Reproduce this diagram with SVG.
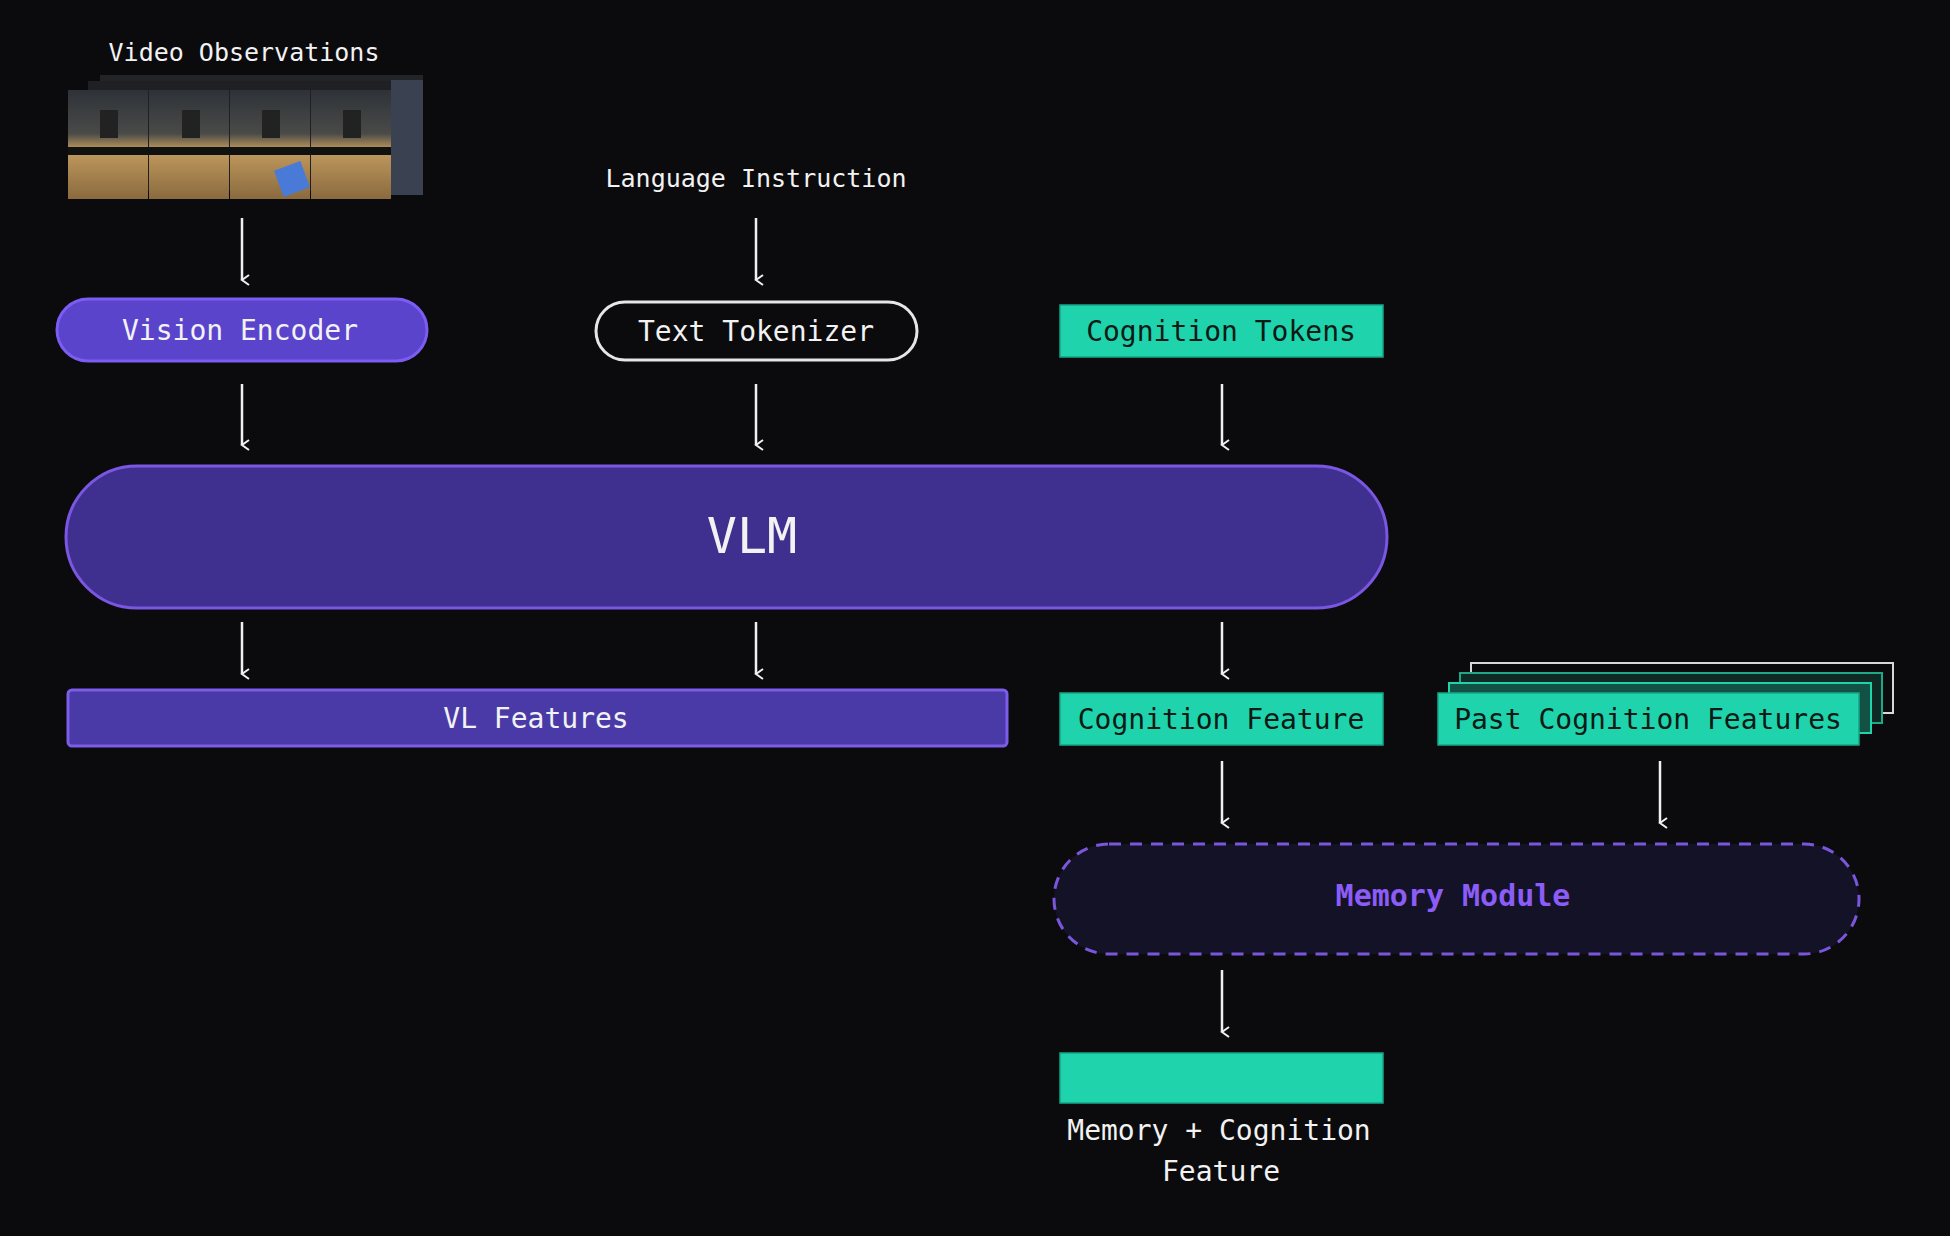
<svg xmlns="http://www.w3.org/2000/svg" width="1950" height="1236" viewBox="0 0 1950 1236">
<defs>
<style>
text{font-family:"DejaVu Sans Mono","Liberation Mono",monospace;text-anchor:middle;dominant-baseline:central}
.w{fill:#f2f2f2}
.k{fill:#0b1a14}
.teal{fill:#1fd3ac;stroke:#16a686;stroke-width:1.5}
.arr{stroke:#f0f0f0;stroke-width:2.5;fill:none}
</style>
<marker id="ah" viewBox="0 0 12 12" refX="6" refY="10" markerWidth="12" markerHeight="12" markerUnits="userSpaceOnUse" orient="auto-start-reverse">
<path d="M1,3 L6,10 L11,3" fill="none" stroke="#f0f0f0" stroke-width="2"/>
</marker>
<linearGradient id="fr" x1="0" y1="0" x2="0" y2="1">
<stop offset="0" stop-color="#2e3238"/><stop offset="0.4" stop-color="#4a4a48"/><stop offset="0.55" stop-color="#c19a5e"/><stop offset="1" stop-color="#8a6a3e"/>
</linearGradient>
</defs>
<rect width="1950" height="1236" fill="#0b0b0d"/>
<g id="video">
<text class="w" x="244" y="52" font-size="25">Video Observations</text>
<g opacity="0.5"><rect x="100" y="75" width="323" height="110" fill="#3a3e44"/><rect x="88" y="81" width="323" height="110" fill="#33363b"/></g>
<rect x="68" y="90" width="80" height="109" fill="url(#fr)"/>
<rect x="149" y="90" width="80" height="109" fill="url(#fr)"/>
<rect x="230" y="90" width="80" height="109" fill="url(#fr)"/>
<rect x="311" y="90" width="80" height="109" fill="url(#fr)"/>
<rect x="391" y="80" width="32" height="115" fill="#3a4150"/>
<rect x="68" y="147" width="323" height="8" fill="#111"/>
<rect x="278" y="165" width="28" height="28" fill="#4a7ad8" transform="rotate(-20 292 179)"/>
<g fill="#222"><rect x="100" y="110" width="18" height="28"/><rect x="182" y="110" width="18" height="28"/><rect x="262" y="110" width="18" height="28"/><rect x="343" y="110" width="18" height="28"/></g>
</g>
<g id="lang"><text class="w" x="756" y="178" font-size="25">Language Instruction</text></g>
<g id="vision-encoder">
<rect x="57" y="299" width="370" height="62" rx="31" fill="#5a44cc" stroke="#7c5cf2" stroke-width="3"/>
<text class="w" x="240" y="330" font-size="28">Vision Encoder</text>
</g>
<g id="text-tokenizer">
<rect x="596" y="302" width="321" height="58" rx="29" fill="#0b0b0d" stroke="#e6e6e6" stroke-width="3"/>
<text class="w" x="756" y="331" font-size="28">Text Tokenizer</text>
</g>
<g id="cognition-tokens">
<rect class="teal" x="1060" y="305" width="323" height="52"/>
<text class="k" x="1221" y="331" font-size="28">Cognition Tokens</text>
</g>
<g id="vlm">
<rect x="66" y="466" width="1321" height="142" rx="71" fill="#3f308f" stroke="#7b56e2" stroke-width="3"/>
<text class="w" x="752" y="536" font-size="50">VLM</text>
</g>
<g id="vl-features">
<rect x="68" y="690" width="939" height="56" rx="4" fill="#4a3aa8" stroke="#7c5ce8" stroke-width="3"/>
<text class="w" x="536" y="718" font-size="28">VL Features</text>
</g>
<g id="cognition-feature">
<rect class="teal" x="1060" y="693" width="323" height="52"/>
<text class="k" x="1221" y="719" font-size="28">Cognition Feature</text>
</g>
<g id="past-cognition-features">
<rect x="1471" y="663" width="422" height="50" fill="#0b0b0d" stroke="#d8d8d8" stroke-width="2"/>
<rect x="1460" y="673" width="422" height="50" fill="#0f2a24" stroke="#1fa888" stroke-width="2"/>
<rect x="1449" y="683" width="422" height="50" fill="#125244" stroke="#1fd3ac" stroke-width="2"/>
<rect class="teal" x="1438" y="693" width="421" height="52"/>
<text class="k" x="1648" y="719" font-size="28">Past Cognition Features</text>
</g>
<g id="memory-module">
<rect x="1054" y="844" width="805" height="110" rx="55" fill="#141226" stroke="#7a56dc" stroke-width="3" stroke-dasharray="12 9"/>
<text x="1453" y="895" font-size="30" fill="#8b5cf6" font-weight="bold">Memory Module</text>
</g>
<g id="memory-cognition-feature">
<rect class="teal" x="1060" y="1053" width="323" height="50"/>
<text class="w" x="1219" y="1130" font-size="28">Memory + Cognition</text>
<text class="w" x="1221" y="1171" font-size="28">Feature</text>
</g>
<g id="connectors" class="arr" marker-end="url(#ah)">
<line x1="242" y1="218" x2="242" y2="280"/>
<line x1="756" y1="218" x2="756" y2="280"/>
<line x1="242" y1="384" x2="242" y2="445"/>
<line x1="756" y1="384" x2="756" y2="445"/>
<line x1="1222" y1="384" x2="1222" y2="445"/>
<line x1="242" y1="622" x2="242" y2="674"/>
<line x1="756" y1="622" x2="756" y2="674"/>
<line x1="1222" y1="622" x2="1222" y2="674"/>
<line x1="1222" y1="761" x2="1222" y2="823"/>
<line x1="1660" y1="761" x2="1660" y2="823"/>
<line x1="1222" y1="970" x2="1222" y2="1032"/>
</g>
</svg>
